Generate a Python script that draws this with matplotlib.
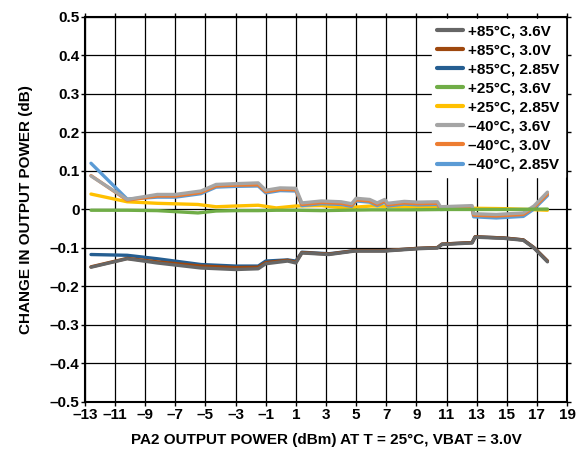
import matplotlib
matplotlib.use("Agg")
import matplotlib.pyplot as plt

plt.rcParams['font.family'] = ['Liberation Sans', 'DejaVu Sans']
plt.rcParams['font.weight'] = 'bold'

# -40C series share one x grid
x_cold = [-12.6, -10.2, -8.2, -7.0, -5.3, -4.3, -3.0, -1.5, -1.0, -0.05, 1.0, 1.4,
          2.7, 4.0, 4.7, 5.0, 5.9, 6.4, 6.9, 7.1, 8.2, 9.1, 10.4, 10.6, 12.7, 12.8, 14.3, 16.1, 16.8, 17.7]
m40_36 = [0.087, 0.026, 0.039, 0.039, 0.048, 0.065, 0.067, 0.069, 0.050, 0.056, 0.055, 0.017,
          0.022, 0.020, 0.015, 0.029, 0.026, 0.017, 0.026, 0.016, 0.021, 0.019, 0.020, 0.007, 0.010, -0.011, -0.013, -0.009, 0.009, 0.045]
m40_30 = [0.088, 0.024, 0.035, 0.035, 0.044, 0.061, 0.063, 0.064, 0.046, 0.052, 0.051, 0.013,
          0.018, 0.016, 0.011, 0.025, 0.022, 0.013, 0.022, 0.012, 0.017, 0.015, 0.016, 0.003, 0.006, -0.015, -0.017, -0.013, 0.005, 0.040]
m40_285 = [0.120, 0.027, 0.032, 0.032, 0.041, 0.058, 0.060, 0.061, 0.043, 0.049, 0.048, 0.010,
           0.015, 0.013, 0.008, 0.022, 0.019, 0.010, 0.019, 0.009, 0.014, 0.012, 0.013, 0.000, 0.002, -0.019, -0.022, -0.018, 0.001, 0.036]

# +25C series
x_room = [-12.6, -10.2, -8.2, -5.5, -4.3, -3.0, -1.5, -0.3, 1.0, 2.7, 4.2, 6.0, 8.5, 11.0, 13.0, 15.0, 17.7]
p25_285 = [0.040, 0.020, 0.016, 0.013, 0.007, 0.009, 0.011, 0.004, 0.009, 0.010, 0.004, 0.009, 0.007, 0.004, 0.003, 0.002, -0.002]
p25_36 = [-0.002, -0.002, -0.003, -0.009, -0.004, -0.003, -0.003, -0.002, -0.002, -0.003, -0.002, -0.001, -0.001, 0.000, 0.000, 0.000, 0.001]

# +85C series
x_hot = [-12.6, -10.2, -8.2, -5.3, -3.0, -1.5, -1.0, 0.45, 1.0, 1.4, 3.2, 4.9, 6.9, 9.1, 10.4, 10.7,
         12.7, 12.9, 14.8, 16.1, 16.8, 17.7]
p85_36 = [-0.150, -0.128, -0.139, -0.152, -0.156, -0.154, -0.141, -0.134, -0.139, -0.113, -0.117, -0.108,
          -0.108, -0.102, -0.100, -0.091, -0.087, -0.072, -0.075, -0.080, -0.100, -0.136]
p85_30 = [-0.149, -0.127, -0.136, -0.147, -0.151, -0.150, -0.138, -0.132, -0.137, -0.112, -0.116, -0.107,
          -0.107, -0.101, -0.099, -0.090, -0.086, -0.071, -0.074, -0.079, -0.099, -0.134]
p85_285 = [-0.117, -0.119, -0.128, -0.143, -0.147, -0.147, -0.134, -0.131, -0.134, -0.111, -0.115, -0.107,
           -0.107, -0.101, -0.099, -0.090, -0.086, -0.071, -0.074, -0.079, -0.099, -0.134]

xticks = list(range(-13, 20, 2))
yticks = [0.5, 0.4, 0.3, 0.2, 0.1, 0, -0.1, -0.2, -0.3, -0.4, -0.5]
ytick_labels = ['0.5', '0.4', '0.3', '0.2', '0.1', '0', '–0.1', '–0.2', '–0.3', '–0.4', '–0.5']
xtick_labels = [str(v).replace('-', '–') for v in xticks]

fig = plt.figure(figsize=(5.86, 4.58), dpi=100)
ax = fig.add_axes([0.145, 0.1223, 0.8226, 0.8407])

lw = 2.4
series = [
    (x_hot, p85_36, '#666666', '+85°C, 3.6V', 6),
    (x_hot, p85_30, '#9e480e', '+85°C, 3.0V', 5),
    (x_hot, p85_285, '#255e91', '+85°C, 2.85V', 4),
    (x_room, p25_36, '#70ad47', '+25°C, 3.6V', 8),
    (x_room, p25_285, '#ffc000', '+25°C, 2.85V', 3),
    (x_cold, m40_36, '#a5a5a5', '–40°C, 3.6V', 7),
    (x_cold, m40_30, '#ed7d31', '–40°C, 3.0V', 6),
    (x_cold, m40_285, '#5b9bd5', '–40°C, 2.85V', 5),
]
for xs, ys, c, lab, z in series:
    ax.plot(xs, ys, color=c, lw=lw, label=lab, zorder=z, solid_capstyle='round')

ax.set_xlim(-13, 19)
ax.set_ylim(-0.5, 0.5)
ax.set_xticks(xticks)
ax.set_xticklabels(xtick_labels)
ax.set_yticks(yticks)
ax.set_yticklabels(ytick_labels)
ax.grid(True, color='black', lw=0.9)
ax.set_axisbelow(True)
for s in ax.spines.values():
    s.set_linewidth(1.5)
ax.tick_params(direction='out', length=3, width=1, labelsize=11, pad=1,
               top=True, right=True)

ax.set_xlabel('PA2 OUTPUT POWER (dBm) AT T = 25°C, VBAT = 3.0V', fontsize=11, fontweight='bold', labelpad=8)
ax.set_ylabel('CHANGE IN OUTPUT POWER (dB)', fontsize=11, fontweight='bold', labelpad=12)

leg = ax.legend(loc='upper right', fontsize=11, frameon=True, fancybox=False,
                edgecolor='white', framealpha=1, handlelength=1.65, handletextpad=0.35,
                labelspacing=0.33, borderpad=0.35, borderaxespad=0.15)
leg.set_zorder(20)
for t in leg.get_texts():
    t.set_fontweight('bold')
for h in leg.get_lines():
    h.set_linewidth(3)

fig.savefig('out.png', dpi=100)
